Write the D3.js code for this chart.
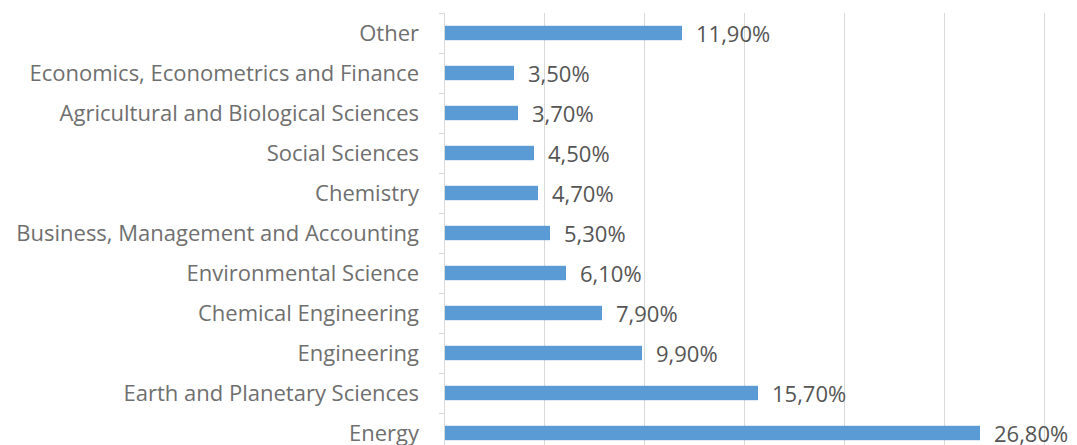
<!DOCTYPE html>
<html>
<head>
<meta charset="utf-8">
<style>
  body { margin: 0; background: #fff; }
  text { font-family: "Open Sans", Lato, sans-serif; }
</style>
<script src="https://d3js.org/d3.v7.min.js"></script>
</head>
<body>
<svg id="chart" width="1077" height="445"></svg>
<script>
// categories from top to bottom
var categories = ["Other", "Economics, Econometrics and Finance", "Agricultural and Biological Sciences",
  "Social Sciences", "Chemistry", "Business, Management and Accounting", "Environmental Science",
  "Chemical Engineering", "Engineering", "Earth and Planetary Sciences", "Energy"];
var values = [11.9, 3.5, 3.7, 4.5, 4.7, 5.3, 6.1, 7.9, 9.9, 15.7, 26.8];
var gridTicks = [0, 5, 10, 15, 20, 25, 30];

var svg = d3.select("#chart");
var x = d3.scaleLinear().domain([0, 30]).range([444, 1044]);
var y = d3.scaleBand().domain(categories).range([13, 453]).paddingInner(0.64).paddingOuter(0.32);
var step = y.step();

// gridlines
svg.append("g").selectAll("line").data(gridTicks.slice(1)).join("line")
  .attr("x1", d => x(d) + 0.5).attr("x2", d => x(d) + 0.5)
  .attr("y1", 13).attr("y2", 453)
  .attr("stroke", "#d9d9d9").attr("stroke-width", 1);

// axis line with category ticks
svg.append("line").attr("x1", 444.5).attr("x2", 444.5).attr("y1", 13).attr("y2", 453)
  .attr("stroke", "#d9d9d9");
svg.append("g").selectAll("line").data(d3.range(categories.length + 1)).join("line")
  .attr("x1", 439).attr("x2", 444.5)
  .attr("y1", i => 13 + i * step + 0.5).attr("y2", i => 13 + i * step + 0.5)
  .attr("stroke", "#d9d9d9");

// bars
svg.append("g").selectAll("rect").data(values).join("rect")
  .attr("x", x(0) + 1)
  .attr("y", (d, i) => y(categories[i]))
  .attr("width", d => x(d) - x(0) - 1)
  .attr("height", y.bandwidth())
  .attr("fill", "#5b9bd5");

// category labels
svg.append("g").selectAll("text").data(categories).join("text")
  .attr("x", 419)
  .attr("y", d => y(d) + y.bandwidth() / 2)
  .attr("dy", "0.35em")
  .attr("text-anchor", "end")
  .attr("font-size", "22px")
  .attr("fill", "#6f6f6f")
  .text(d => d);

// value labels
svg.append("g").selectAll("text").data(values).join("text")
  .attr("x", d => x(d) + 14)
  .attr("y", (d, i) => y(categories[i]) + y.bandwidth() / 2 + 1)
  .attr("dy", "0.35em")
  .attr("font-size", "22px")
  .attr("fill", "#555")
  .text(d => d.toFixed(2).replace(".", ",") + "%");
</script>
</body>
</html>
